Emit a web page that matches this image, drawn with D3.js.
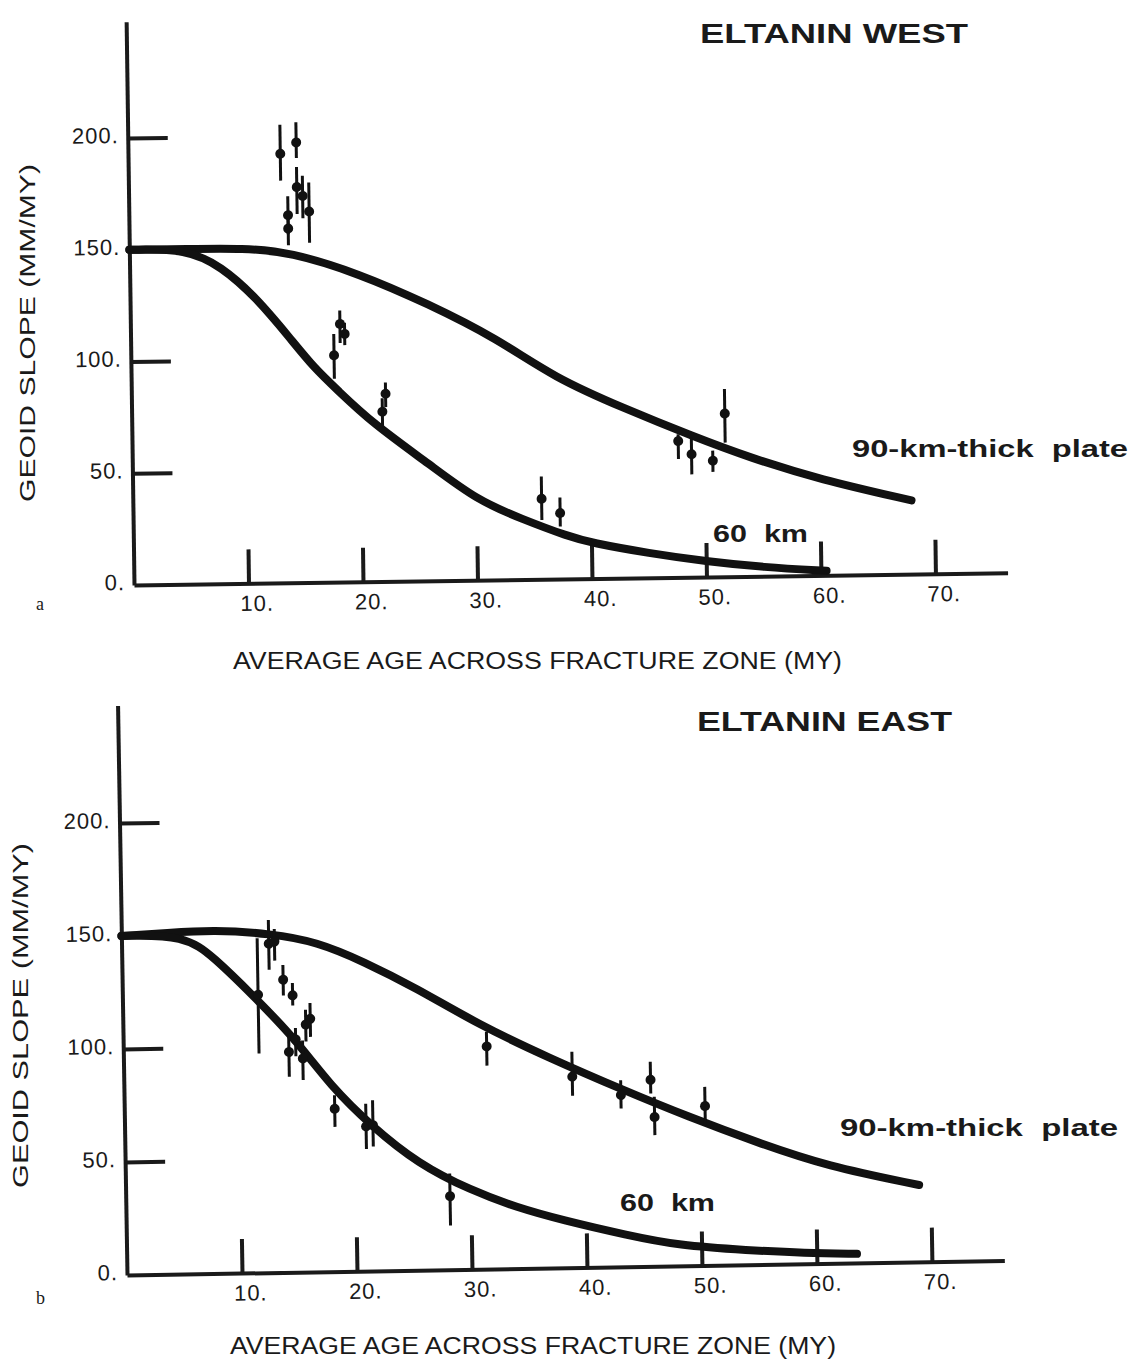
<!DOCTYPE html>
<html>
<head>
<meta charset="utf-8">
<script src="https://cdn.jsdelivr.net/npm/d3@7"></script>
<style>
  body { margin: 0; background: #fff; }
  text { font-family: "Liberation Sans", Arial, sans-serif; fill: #1a1a1a; }
  .tick text { font-size: 22px; letter-spacing: 1px; }
  .domain, .tick line { stroke: #1a1a1a; }
</style>
</head>
<body>
<div id="chart"></div>
<script>
// tick values
const xTicks = [10, 20, 30, 40, 50, 60, 70];
const yTicks = [0, 50, 100, 150, 200];

// panel a: model curves [age, slope]
const west90 = [[0,150],[5,150],[10,150],[14,148],[20,138],[26,124],[32,108],[37,90],[43,76],[49,63],[54,53],[60,43],[68,33]];
const west60 = [[0,150],[5,150],[8,142],[11,128],[14,109],[16,96],[18,86],[21,71],[26,52],[30,36],[34,27],[38,19],[40,16],[45,11],[50,7],[55,4],[60.5,2]];
// panel a: observations [age, slope, low, high]
const westObs = [
  [13.3,192,180,205],[14.7,197,190,206],[14.7,177,165,186],[15.2,173,163,182],
  [15.75,166,152,179],[13.9,164.5,156,173],[13.9,158.5,151,165],
  [18.3,115.5,107,121.5],[18.7,111,106,116],[17.75,101.5,91,111],
  [22.2,84,78,89],[21.9,76,69,82],
  [35.7,36,26.5,46],[37.3,29.5,23.5,36.5],
  [47.7,61,53,64],[48.85,55,46,62.5],[50.7,52,47,56.5],[51.8,73,60,84]
];

// panel b: model curves
const east90 = [[0,150],[4,151],[8,152],[13,150],[17,146],[21,137],[25.5,125],[31,108],[37,93],[43.5,78],[49,66],[55,54],[61,43],[69,34]];
const east60 = [[0,150],[5.5,150],[8,140],[11.5,122],[15,103],[18,82],[21.5,64],[25.5,47],[30,35],[34,27],[38,21],[43.5,14],[48,9],[54,6.4],[59,4.7],[63.5,4]];
// panel b: observations
const eastObs = [
  [11.8,123,97,148],[12.8,145.5,134,156],[13.3,146.5,138,152],
  [14.0,129.5,122.5,136],[14.8,122.5,118,128],[16.3,112,104,119],[15.9,109.5,102,116],
  [15.0,103,95.5,108],[14.4,97.5,86.5,105.5],[15.6,94.5,85,102.5],
  [18.3,72,64,78],[21.0,64,54,74],[21.6,64.5,55,75.5],
  [28.2,32.5,19.5,42.5],[31.6,98.5,90,105],
  [39,84.5,76,95.5],[43.2,76,70,82.5],[45.8,82.5,76.5,90.5],[46.1,66,58,75],[50.5,70.5,62,79]
];

const svg = d3.select("#chart").append("svg")
  .attr("width", 1133).attr("height", 1367);

function panel(cfg) {
  // the scanned figure is slightly tilted, so each panel is rotated a little
  const g = svg.append("g")
    .attr("transform", `translate(${cfg.ox},${cfg.oy}) rotate(${cfg.angle})`);

  const x = d3.scaleLinear().domain([0, 76.3]).range([0, 76.3 * cfg.kx]);
  const y = d3.scaleLinear().domain([0, 252]).range([0, -252 * cfg.ky]);

  // y axis, ticks pointing into the plot
  const ya = g.append("g")
    .call(d3.axisLeft(y).tickValues(yTicks).tickFormat(d => d + ".")
      .tickSizeInner(-40).tickSizeOuter(0).tickPadding(9));
  ya.select(".domain").attr("stroke-width", 4);
  ya.selectAll(".tick line").attr("stroke-width", 4)
    .filter(d => d === 0).remove();
  ya.selectAll(".tick text").attr("dy", "0.2em");

  // x axis, ticks pointing up
  const xa = g.append("g")
    .call(d3.axisBottom(x).tickValues(xTicks).tickFormat(d => d + ".")
      .tickSizeInner(-34).tickSizeOuter(0).tickPadding(12));
  xa.select(".domain").attr("stroke-width", 4);
  xa.selectAll(".tick line").attr("stroke-width", 4);
  xa.selectAll(".tick text").attr("dx", 8);

  const line = d3.line().x(d => x(d[0])).y(d => y(d[1])).curve(d3.curveBasis);
  [cfg.c90, cfg.c60].forEach(c => {
    g.append("path").datum(c)
      .attr("d", line)
      .attr("fill", "none")
      .attr("stroke", "#111")
      .attr("stroke-width", 8)
      .attr("stroke-linecap", "round");
  });

  const obs = g.append("g");
  obs.selectAll("line").data(cfg.obs).join("line")
    .attr("x1", d => x(d[0])).attr("x2", d => x(d[0]))
    .attr("y1", d => y(d[2])).attr("y2", d => y(d[3]))
    .attr("stroke", "#111").attr("stroke-width", 3);
  obs.selectAll("circle").data(cfg.obs).join("circle")
    .attr("cx", d => x(d[0])).attr("cy", d => y(d[1]))
    .attr("r", 5).attr("fill", "#111");
}

panel({ ox: 134, oy: 585, kx: 11.45, ky: 2.235, angle: -0.8, c90: west90, c60: west60, obs: westObs });
panel({ ox: 127, oy: 1275, kx: 11.5, ky: 2.26, angle: -0.95, c90: east90, c60: east60, obs: eastObs });

// text labels
function label(t, x, y, opts) {
  const el = svg.append("text").attr("x", x).attr("y", y).text(t)
    .attr("font-size", opts.size)
    .attr("font-weight", opts.bold ? "bold" : "normal");
  if (opts.len) el.attr("textLength", opts.len).attr("lengthAdjust", "spacingAndGlyphs");
  if (opts.rotate) el.attr("transform", `rotate(-90,${x},${y})`);
  if (opts.family) el.style("font-family", opts.family);
  return el;
}

label("ELTANIN WEST", 700, 43, { size: 28, bold: true, len: 268 });
label("ELTANIN EAST", 697, 731, { size: 28, bold: true, len: 255 });

label("90-km-thick\u00a0\u00a0plate", 852, 457, { size: 24, bold: true, len: 276 });
label("90-km-thick\u00a0\u00a0plate", 840, 1136, { size: 24, bold: true, len: 278 });
label("60\u00a0\u00a0km", 713, 542, { size: 24, bold: true, len: 95 });
label("60\u00a0\u00a0km", 620, 1211, { size: 24, bold: true, len: 95 });

label("AVERAGE AGE ACROSS FRACTURE ZONE (MY)", 233, 669, { size: 23, len: 609 });
label("AVERAGE AGE ACROSS FRACTURE ZONE (MY)", 230, 1354, { size: 23, len: 606 });

label("GEOID SLOPE  (MM/MY)", 35, 502, { size: 22, len: 338, rotate: true });
label("GEOID SLOPE  (MM/MY)", 28, 1188, { size: 22, len: 345, rotate: true });

label("a", 36, 610, { size: 18, family: "Liberation Serif, serif" });
label("b", 36, 1304, { size: 18, family: "Liberation Serif, serif" });
</script>
</body>
</html>
